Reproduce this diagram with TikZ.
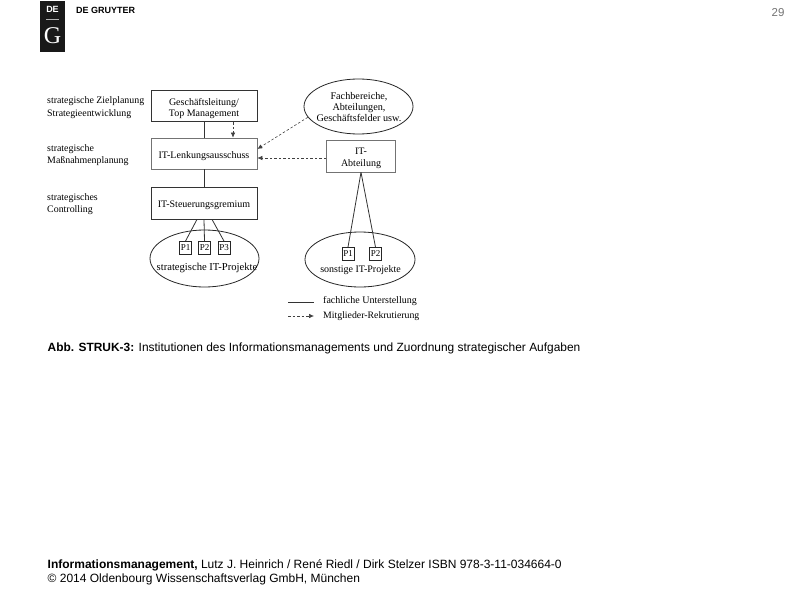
\documentclass[tikz,border=0pt]{standalone}
\usepackage{fontspec}
\setmainfont{Liberation Serif}
\newfontfamily\sansfont{Liberation Sans}
\usepackage{tikz}
\usetikzlibrary{arrows.meta,shapes,calc}
\newcommand{\topstrut}{\rule{0pt}{11pt}}
\tikzset{
  orgbox/.style={draw=black!80, line width=1pt, minimum width=106pt, inner sep=0pt, align=center, font=\fontsize{10}{11}\selectfont},
  lightbox/.style={orgbox, draw=black!55, line width=.7pt},
  pbox/.style={draw=black!85, line width=.8pt, minimum width=12pt, minimum height=13pt, inner sep=0pt, font=\fontsize{9}{10}\selectfont},
  oval/.style={draw=black!85, line width=.8pt, ellipse, inner sep=0pt},
  diagtext/.style={font=\fontsize{10}{11}\selectfont, inner sep=0pt, align=center},
  leveltext/.style={font=\fontsize{9.9}{12.5}\selectfont, inner sep=0pt, align=left, anchor=west},
  footer/.style={font=\sansfont\fontsize{12}{14}\selectfont, inner sep=0pt, align=left, anchor=west},
  solidline/.style={draw=black!80, line width=.8pt},
  dashline/.style={draw=black!75, line width=.6pt, dash pattern=on 2.5pt off 2pt, -{Latex[length=5pt,width=4.5pt]}}
}
\begin{document}
\begin{tikzpicture}[x=1pt,y=-1pt]
  \useasboundingbox (0,0) rectangle (794,596);

  \node[fill=black!90, minimum width=25pt, minimum height=51pt, inner sep=0pt] (logo) at (52.5,26.5) {};
  \node[text=white, font=\sansfont\bfseries\fontsize{9}{10}\selectfont, inner sep=0pt] (logode) at (52.5,9.5) {DE};
  \node[fill=black!30, minimum width=13pt, minimum height=1.5pt, inner sep=0pt] (logobar) at (52.5,19.5) {};
  \node[text=white, font=\fontsize{24}{25}\selectfont, inner sep=0pt] (logog) at (52.5,36) {G};
  \node[font=\sansfont\bfseries\fontsize{9}{10}\selectfont, inner sep=0pt, anchor=west] (gruyter) at (76,10) {DE GRUYTER};
  \node[text=black!55, font=\sansfont\fontsize{11.5}{12}\selectfont, inner sep=0pt] (pagenum) at (778,13) {29};

  \node[leveltext] (ziel) at (47,107.5) {strategische Zielplanung\\Strategieentwicklung};
  \node[leveltext] (mass) at (47,155) {strategische\\Maßnahmenplanung};
  \node[leveltext] (contr) at (47,204) {strategisches\\Controlling};

  \node[orgbox, minimum height=31pt] (leitung) at (204,106.5) {\topstrut Geschäftsleitung/\\Top Management};
  \node[lightbox, minimum height=31pt, text height=9pt, text depth=0pt] (lenkung) at (204,153.5) {IT-Lenkungsausschuss};
  \node[orgbox, line width=.8pt, minimum height=32pt, text height=9pt, text depth=0pt] (steuerung) at (204,203) {IT-Steuerungsgremium};

  \node[oval, minimum width=109pt, minimum height=57pt] (projekte) at (204.5,258.5) {};
  \node[pbox] (pa) at (185.5,248) {P1};
  \node[pbox] (pb) at (204.5,248) {P2};
  \node[pbox] (pc) at (224,248) {P3};
  \node[diagtext, font=\fontsize{10.6}{12}\selectfont] (projtext) at (207,268) {strategische IT-Projekte};

  \node[oval, minimum width=109pt, minimum height=55pt] (fach) at (358.5,106.5) {};
  \node[diagtext, font=\fontsize{10.2}{11}\selectfont] (fachtext) at (359,107.5) {Fachbereiche,\\Abteilungen,\\Geschäftsfelder usw.};
  \node[lightbox, minimum width=69pt, minimum height=32pt, font=\fontsize{10}{12.5}\selectfont] (abteilung) at (361,156) {\topstrut IT-\\Abteilung};

  \node[oval, minimum width=110pt, minimum height=55pt] (sonstige) at (360,259.5) {};
  \node[pbox] (sa) at (348,254) {P1};
  \node[pbox] (sb) at (375.5,254) {P2};
  \node[diagtext] (sontext) at (360.5,270) {sonstige IT-Projekte};

  \draw[solidline] (leitung) -- (lenkung);
  \draw[solidline] (lenkung) -- (steuerung);
  \draw[solidline] (steuerung.south) ++(-7,0) coordinate (ca) -- (pa.north);
  \draw[solidline] (steuerung.south) -- (pb.north);
  \draw[solidline] (steuerung.south) ++(8,0) coordinate (cb) -- (pc.north);
  \draw[solidline] (abteilung.south) -- (sa.north);
  \draw[solidline] (abteilung.south) -- (sb.north);

  \draw[dashline] (leitung.south -| 233,0) -- (lenkung.north -| 233,0);
  \draw[dashline] (fach.192) -- (lenkung.east |- 0,149);
  \draw[dashline] (abteilung.west |- 0,158) -- (lenkung.east |- 0,158);

  \coordinate (la) at (288,302);
  \coordinate (lb) at (314,302);
  \coordinate (lc) at (288,316);
  \coordinate (ld) at (314,316);
  \draw[solidline] (la) -- (lb);
  \draw[dashline] (lc) -- (ld);
  \node[diagtext, anchor=west] (fachlich) at (323,301) {fachliche Unterstellung};
  \node[diagtext, font=\fontsize{9.8}{11}\selectfont, anchor=west] (mitglied) at (323,316.5) {Mitglieder-Rekrutierung};

  \node[footer, font=\sansfont\fontsize{11.93}{14}\selectfont] (caption) at (47.5,348.5) {{\bfseries Abb. STRUK-3:} Institutionen des Informationsmanagements und Zuordnung strategischer Aufgaben};
  \node[footer] (source) at (47.5,572) {{\bfseries Informationsmanagement,} Lutz J. Heinrich / René Riedl / Dirk Stelzer ISBN 978-3-11-034664-0\\© 2014 Oldenbourg Wissenschaftsverlag GmbH, München};
\end{tikzpicture}
\end{document}
